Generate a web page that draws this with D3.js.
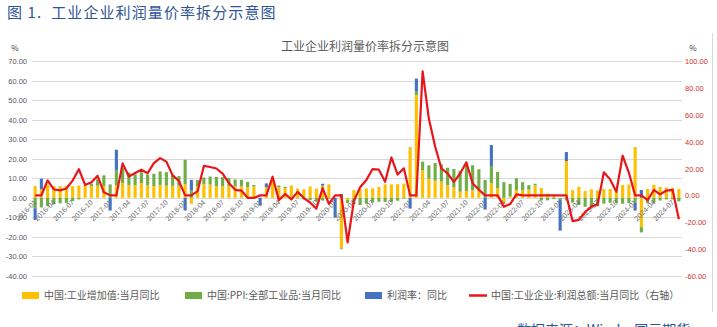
<!DOCTYPE html>
<html><head><meta charset="utf-8">
<script src="https://cdn.jsdelivr.net/npm/d3@7/dist/d3.min.js"></script>
<style>
body{margin:0;background:#fff;}
svg{display:block;font-family:"Microsoft YaHei","Noto Sans CJK SC",sans-serif;}
</style></head><body>
<svg id="c" width="717" height="327"></svg>
<script>
// months 2016-01 .. 2024-08
const months = [];
for (let y = 2016; y <= 2024; y++) for (let m = 1; m <= 12; m++) { if (y === 2024 && m > 8) break; months.push(y + "-" + String(m).padStart(2, "0")); }

// 中国:工业增加值:当月同比
const valueAdded = [
  6, 4.3, 6.8, 6.0, 6.0, 6.2, 6.0, 6.3, 6.1, 6.1, 6.2, 6.0,
  0, 6.3, 7.6, 6.5, 6.5, 7.6, 6.4, 6.0, 6.6, 6.2, 6.1, 6.2,
  7, -3, 6.0, 7.0, 6.8, 6.0, 6.0, 6.1, 5.8, 5.9, 5.4, 5.7,
  0, 5.3, 8.5, 5.4, 5.0, 6.3, 4.8, 4.4, 5.8, 4.7, 6.2, 6.9,
  0, -25.9, -1.1, 3.9, 4.4, 4.8, 4.8, 5.6, 6.9, 6.9, 7.0, 7.3,
  25.5, 52.6, 14.1, 9.8, 8.8, 8.3, 6.4, 5.3, 3.1, 3.5, 3.8, 4.3,
  0, 7.5, 5.0, -2.9, 0.7, 3.9, 3.8, 4.2, 6.3, 5.0, 2.2, 1.3,
  0, 18.8, 3.9, 5.6, 3.5, 4.4, 3.7, 4.5, 4.5, 4.6, 6.6, 6.8,
  26, -15, 4.5, 6.7, 5.6, 5.3, 5.1, 4.5
];
// 中国:PPI:全部工业品:当月同比
const ppi = [
  -5.3, -4.9, -4.3, -3.4, -2.8, -2.6, -1.7, -0.8, 0.1, 1.2, 3.3, 5.5,
  6.9, 7.8, 7.6, 6.4, 5.5, 5.5, 5.5, 6.3, 6.9, 6.9, 5.8, 4.9,
  12.5, 3.7, 3.1, 3.4, 4.1, 4.7, 4.6, 4.1, 3.6, 3.3, 2.7, 0.9,
  0.1, 0.1, 0.4, 0.9, 0.6, 0.0, -0.3, -0.8, -1.2, -1.6, -1.4, -0.5,
  0.1, -0.4, -1.5, -3.1, -3.7, -3.0, -2.4, -2.0, -2.1, -2.1, -1.5, -0.4,
  0.3, 1.7, 4.4, 6.8, 9.0, 8.8, 9.0, 9.5, 10.7, 13.5, 12.9, 10.3,
  9.1, 8.8, 8.3, 8.0, 6.4, 6.1, 4.2, 2.3, 0.9, -1.3, -1.3, -0.7,
  -0.8, -1.4, -2.5, -3.6, -4.6, -5.4, -4.4, -3.0, -2.5, -2.6, -3.0, -2.7,
  -2.5, -2.7, -2.8, -2.5, -1.4, -0.8, -0.8, -1.8
];
// 利润率：同比
const margin = [
  -6, 5.5, 0, 0, 0, 0, 0, 0, 0, 0, 0, 0,
  -6.5, 10.5, 0, 0, 0, 0, 0, 0, 0, 0, 0, 0,
  -6.5, 5.5, 0, 0, 0, 0, 0, 0, 0, 0, 0, 0,
  -4, 2, 0, 0, 0, 0, 0, 0, 0, 0, 1, 0,
  -10, 2, 0, 0, 0, 0, 0, 0, 0, 0, 0, 0,
  -5.5, 6.7, 0, 0, 0, 0, 0, 0, 0, 0, 0, 0,
  -6, 10.7, 0, 0, 0, 0, 0, 0, 0, 0, 0, 0,
  -16, 4.6, 0, 0, 0, 0, 0, 0, 0, 0, 0, 0,
  -4, 4, 0, 0, 0, 0, 0, 0
];
// 中国:工业企业:利润总额:当月同比（右轴）
const profit = [
  0, 0, 11.1, 4.4, 3.7, 5.1, 11.0, 19.5, 7.7, 9.8, 14.5, 2.3,
  0, 0, 23.8, 14.0, 16.7, 19.1, 16.5, 24.0, 27.7, 25.1, 14.9, 10.8,
  0, 0, 3.1, 21.9, 21.1, 20.0, 16.2, 9.2, 4.1, 3.6, -1.8, -1.9,
  0, 0, 13.9, -3.7, 1.1, -3.1, 2.6, -2.0, -5.3, -9.9, 5.4, -6.3,
  0, 0, -34.9, -4.3, 6.0, 11.5, 19.6, 19.1, 10.1, 28.2, 15.5, 20.1,
  0, 0, 92.3, 57.0, 36.4, 20.0, 16.4, 10.1, 16.3, 24.6, 9.0, 4.2,
  0, 0, 0, -8.5, -6.5, 0.8, 0, 0, 0, 0, 0, 0,
  0, 0, -19.2, -18.2, -12.6, -8.3, -6.7, 17.2, 11.9, 2.7, 29.5, 16.8,
  0, 0, -3.5, 4.0, 0.7, 3.6, 4.1, -17.8
];
const leftTicks = [70, 60, 50, 40, 30, 20, 10, 0, -10, -20, -30, -40];
const rightTicks = [100, 80, 60, 40, 20, 0, -20, -40, -60];
const seriesNames = ["中国:工业增加值:当月同比", "中国:PPI:全部工业品:当月同比", "利润率：同比", "中国:工业企业:利润总额:当月同比（右轴）"];
const colors = ["#ffc000", "#70ad47", "#4472c4", "#e8161b"];

const svg = d3.select("#c");
const x = d3.scaleBand().domain(months).range([32, 682]).paddingInner(0.5).paddingOuter(0.25);
const yL = d3.scaleLinear().domain([-40, 70]).range([276, 61]);
const yR = d3.scaleLinear().domain([-60, 100]).range([276, 61]);

// heading
svg.append("text").attr("x", 7).attr("y", 18).attr("fill", "#2f5496").attr("font-size", 15)
  .attr("letter-spacing", 1.1).attr("xml:space", "preserve").text("图 1.  工业企业利润量价率拆分示意图");

// frame right edge
svg.append("line").attr("x1", 712.5).attr("x2", 712.5).attr("y1", 33).attr("y2", 312).attr("stroke", "#d9d9d9");

// chart title
svg.append("text").attr("x", 365).attr("y", 51).attr("text-anchor", "middle").attr("fill", "#595959")
  .attr("font-size", 12).text("工业企业利润量价率拆分示意图");
svg.append("text").attr("x", 15).attr("y", 51).attr("text-anchor", "middle").attr("fill", "#404040").attr("font-size", 8).text("%");
svg.append("text").attr("x", 693).attr("y", 51).attr("text-anchor", "middle").attr("fill", "#404040").attr("font-size", 8).text("%");

// grid
svg.append("g").selectAll("line").data(leftTicks).join("line")
  .attr("x1", 32).attr("x2", 682).attr("y1", d => Math.round(yL(d)) + 0.5).attr("y2", d => Math.round(yL(d)) + 0.5)
  .attr("stroke", "#d9d9d9").attr("stroke-width", 1);

// left axis labels
svg.append("g").selectAll("text").data(leftTicks).join("text")
  .attr("x", 27).attr("y", d => yL(d) + 3).attr("text-anchor", "end").attr("fill", "#595959")
  .attr("font-size", 7.5).attr("font-family", "Arial, Liberation Sans, sans-serif").text(d => d.toFixed(2));
// right axis labels
svg.append("g").selectAll("text").data(rightTicks).join("text")
  .attr("x", 685).attr("y", d => yR(d) + 3).attr("text-anchor", "start").attr("fill", "#d0312d")
  .attr("font-size", 7.5).attr("font-family", "Arial, Liberation Sans, sans-serif").text(d => d.toFixed(2));

// stacked bars
const rows = months.map((m, i) => ({ m, a: valueAdded[i], b: ppi[i], c: margin[i] }));
const stack = d3.stack().keys(["a", "b", "c"]).offset(d3.stackOffsetDiverging)(rows);
svg.append("g").selectAll("g").data(stack).join("g").attr("fill", (d, i) => colors[i])
  .selectAll("rect").data(d => d).join("rect")
  .attr("x", d => x(d.data.m)).attr("width", x.bandwidth())
  .attr("y", d => yL(Math.max(d[0], d[1]))).attr("height", d => Math.abs(yL(d[0]) - yL(d[1])));

// x labels
const lbl = months.filter((m, i) => i % 3 === 0);
svg.append("g").selectAll("text").data(lbl).join("text")
  .attr("transform", d => `translate(${x(d) + x.bandwidth() / 2 + 2},${yL(0) + 5}) rotate(-45)`)
  .attr("text-anchor", "end").attr("fill", "#6f6f6f").attr("font-size", 7.2)
  .attr("font-family", "Arial, Liberation Sans, sans-serif").text(d => d);

// profit line
const line = d3.line().x((d, i) => x(months[i]) + x.bandwidth() / 2).y(d => yR(d));
svg.append("path").datum(profit).attr("d", line).attr("fill", "none").attr("stroke", colors[3])
  .attr("stroke-width", 2.2).attr("stroke-linejoin", "round");

// legend
const lg = [{ x: 22, tx: 44 }, { x: 185, tx: 207 }, { x: 365, tx: 387 }, { x: 469, tx: 491 }];
const L = svg.append("g");
lg.forEach((p, i) => {
  if (i < 3) L.append("rect").attr("x", p.x).attr("y", 292).attr("width", 17).attr("height", 7).attr("fill", colors[i]);
  else L.append("line").attr("x1", p.x).attr("x2", p.x + 18).attr("y1", 295.5).attr("y2", 295.5).attr("stroke", colors[3]).attr("stroke-width", 2.5);
  L.append("text").attr("x", p.tx).attr("y", 299).attr("fill", "#595959").attr("font-size", 10).text(seriesNames[i]);
});

// source (cropped at bottom, as in the reference)
svg.append("text").attr("x", 517).attr("y", 335).attr("fill", "#2f5496").attr("font-size", 14).text("数据来源：Wind，国元期货");
</script>
</body></html>
